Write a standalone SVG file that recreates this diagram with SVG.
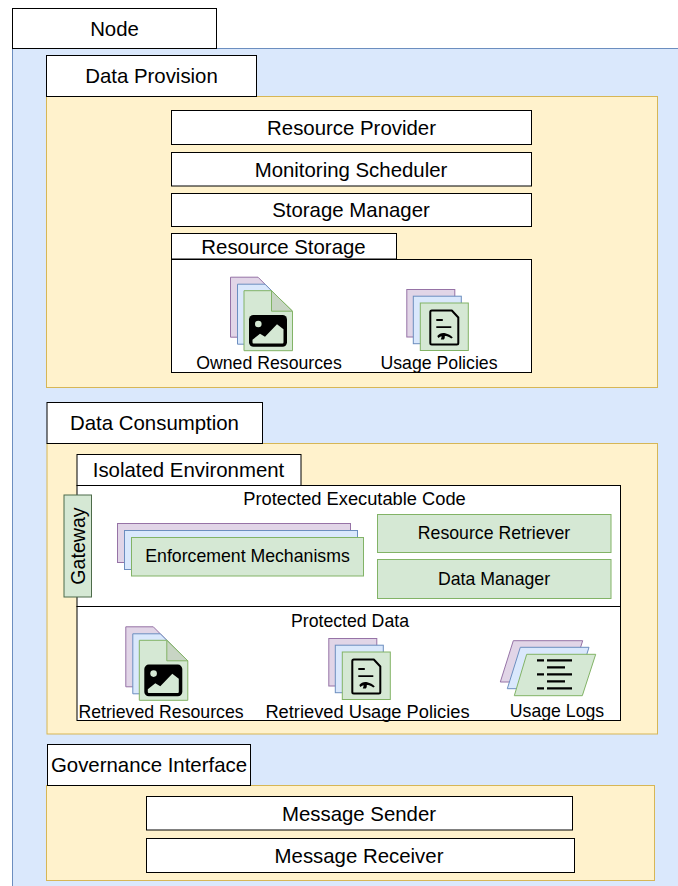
<svg xmlns="http://www.w3.org/2000/svg" xmlns:xlink="http://www.w3.org/1999/xlink" width="678" height="886" viewBox="0 0 678 886">
<style>
text{font-family:"Liberation Sans",Arial,sans-serif;fill:#000;text-anchor:middle;font-size:20.4px}
.cap{font-size:17.7px}
.capl{font-size:18.3px}
.box{fill:#fff;stroke:#000;stroke-width:1}
.outer{fill:#dae8fc;stroke:#6c8ebf;stroke-width:1}
.sec{fill:#fff2cc;stroke:#d6b656;stroke-width:1}
.p{fill:#e1d5e7;stroke:#9673a6;stroke-width:1}
.b{fill:#dae8fc;stroke:#6c8ebf;stroke-width:1}
.g{fill:#d5e8d4;stroke:#82b366;stroke-width:1}
.fold{fill:#c8d5c4;stroke:#82b366;stroke-width:1}
.ic{fill:none;stroke:#000;stroke-width:2;stroke-linejoin:round}
.ln{stroke:#000;stroke-width:1.8;fill:none}
.lg{stroke:#000;stroke-width:2.2;fill:none}
</style>
<defs>
<g id="imgdoc">
<path class="p" d="M-13.500 -13.500H14L34.500 7V46.500H-13.500Z"/>
<path class="b" d="M-6.500 -6.500H21L41.500 14V53.500H-6.500Z"/>
<path class="g" d="M0 0H27.500L48.500 20.500V60H0Z"/>
<path class="fold" d="M27.500 0V20.500H48.500Z"/>
<rect x="5" y="24.300" width="38" height="31.700" rx="4.500" fill="#000"/>
<circle cx="14.300" cy="33.300" r="3.300" fill="#d5e8d4"/>
<path d="M9.500 52.700Q8.500 52.700 8.500 51.500V49L16 43L21 46L33 33.500L39.500 38.500V51.500Q39.500 52.700 38.500 52.700Z" fill="#d5e8d4"/>
</g>
<g id="polic">
<rect class="p" x="-13.500" y="-13.500" width="48" height="47.500"/>
<rect class="b" x="-7" y="-6.800" width="48" height="47.500"/>
<rect class="g" x="0" y="0" width="48" height="47.500"/>
<path class="ic" d="M11.500 7.500H31.500L38 14.500V40Q38 41.500 36.500 41.500H11.500Q10 41.500 10 40V9Q10 7.500 11.500 7.500Z"/>
<path class="ln" d="M16 17H22.500M16 24.200H31"/>
<path d="M17 33C19 30.500 22 29.500 25 30.300C28 31 30.500 32.500 32.500 34.500L31 35.500C28.500 33.500 26 33 24.500 33C24.500 34.500 24.500 35.500 23.500 36.500L20.500 36.500L21.500 33.500C20 33.500 19 34.200 18 35Z" fill="#000"/>
</g>
</defs>

<g id="node-root">
<rect class="outer" x="12.500" y="48.500" width="670" height="842"/>
<rect class="box" x="12.500" y="8.500" width="204" height="40"/>
<text x="114.500" y="35.500">Node</text>
</g>

<g id="data-provision">
<rect class="sec" x="46.500" y="96.500" width="611" height="291"/>
<rect class="box" x="46.500" y="55.500" width="210" height="41"/>
<text x="151.500" y="83">Data Provision</text>
</g>
<g id="resource-provider"><rect class="box" x="171.500" y="110.500" width="360" height="34"/><text x="351.500" y="134.500">Resource Provider</text></g>
<g id="monitoring-scheduler"><rect class="box" x="171.500" y="152.500" width="360" height="33.500"/><text x="351" y="176.500">Monitoring Scheduler</text></g>
<g id="storage-manager"><rect class="box" x="171.500" y="193.500" width="360" height="33"/><text x="351" y="216.500">Storage Manager</text></g>
<g id="resource-storage">
<rect class="box" x="171.500" y="233.500" width="225" height="25.500"/>
<rect class="box" x="171.500" y="259.500" width="360" height="113"/>
<text x="283.500" y="254">Resource Storage</text>
</g>
<g id="owned-resources">
<use xlink:href="#imgdoc" href="#imgdoc" x="244" y="290.700"/>
<text class="cap" x="269" y="369">Owned Resources</text>
</g>
<g id="usage-policies">
<use xlink:href="#polic" href="#polic" x="420.300" y="303"/>
<text class="cap" x="439" y="369">Usage Policies</text>
</g>

<g id="data-consumption">
<rect class="sec" x="47" y="443.500" width="610.500" height="290.500"/>
<rect class="box" x="47" y="402.500" width="215.500" height="41"/>
<text x="154.500" y="430">Data Consumption</text>
</g>
<g id="isolated-environment">
<rect class="box" x="77" y="454.500" width="224" height="31"/>
<text x="188.500" y="476.500">Isolated Environment</text>
</g>
<g id="protected-executable-code">
<rect class="box" x="77" y="485.500" width="543.500" height="121"/>
<text class="capl" x="354.500" y="504.500">Protected Executable Code</text>
</g>
<g id="enforcement-mechanisms">
<rect class="p" x="117.500" y="523.500" width="233" height="39"/>
<rect class="b" x="124.500" y="530.500" width="233" height="39"/>
<rect class="g" x="131.500" y="537.500" width="232" height="38.500"/>
<text class="cap" x="247.500" y="562">Enforcement Mechanisms</text>
</g>
<g id="resource-retriever"><rect class="g" x="377.500" y="514.500" width="233.500" height="38"/><text class="cap" x="494" y="539">Resource Retriever</text></g>
<g id="data-manager"><rect class="g" x="377.500" y="559.500" width="233.500" height="39"/><text class="cap" x="494" y="585">Data Manager</text></g>
<g id="protected-data">
<rect class="box" x="77" y="606.500" width="543.500" height="114"/>
<text class="cap" x="350" y="626.500">Protected Data</text>
</g>
<g id="gateway">
<rect class="g" x="64" y="495" width="27.500" height="102" style="stroke:#4d6b4a"/>
<text transform="translate(84.500 546) rotate(-90)" x="0" y="0" style="font-size:19.600px">Gateway</text>
</g>
<g id="retrieved-resources">
<use xlink:href="#imgdoc" href="#imgdoc" x="139.300" y="640.300"/>
<text class="cap" x="161" y="718">Retrieved Resources</text>
</g>
<g id="retrieved-usage-policies">
<use xlink:href="#polic" href="#polic" x="342.300" y="652"/>
<text class="capl" x="367.500" y="718">Retrieved Usage Policies</text>
</g>
<g id="usage-logs">
<path class="p" d="M513.300 640.700H582.700L569.500 682H500.300Z"/>
<path class="b" d="M520.300 647.300H589L576 688.700H507.300Z"/>
<path class="g" d="M526.700 654.300H595.700L582.300 695.700H514.300Z"/>
<path class="lg" d="M537 660.300H544M547 660.300H572M547 667.300H565M537 674.300H544M547 674.300H572M547 681.300H565M537 688.300H544M547 688.300H572"/>
<text class="cap" x="557" y="717">Usage Logs</text>
</g>

<g id="governance-interface">
<rect class="sec" x="46.500" y="785.500" width="608" height="95"/>
<rect class="box" x="47.500" y="744.500" width="203" height="41"/>
<text x="149" y="771.500">Governance Interface</text>
</g>
<g id="message-sender"><rect class="box" x="146.500" y="796.500" width="426" height="33.500"/><text x="359" y="820.500">Message Sender</text></g>
<g id="message-receiver"><rect class="box" x="146.500" y="838.500" width="428" height="34"/><text x="359" y="862.500">Message Receiver</text></g>
</svg>
